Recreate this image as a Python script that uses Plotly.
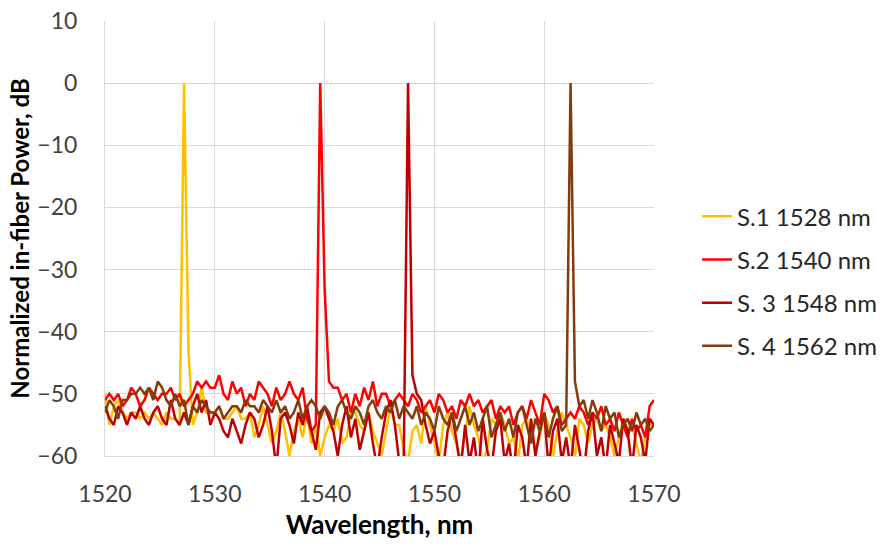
import plotly.graph_objects as go

# Wavelength grid: 1520-1570 nm, 0.4 nm step
wavelength = [round(1520 + 0.4 * k, 1) for k in range(126)]

s1_1528 = [
    -50, -55, -52, -51, -53, -54, -53, -53, -54, -53,
    -54, -53, -54, -55, -53, -54, -54, -55, 0, -43,
    -55, -53, -49, -53, -53, -53, -52, -54, -54, -53,
    -52, -54, -54, -53, -57, -55, -52, -55, -58, -56,
    -53, -56, -60, -56, -54, -57, -53, -58, -55, -60,
    -57, -55, -56, -54, -58, -57, -53, -53, -55, -56,
    -53, -56, -58, -60, -56, -52, -55, -55, -59, -61,
    -56, -55, -58, -52, -55, -58, -61, -55, -53, -56,
    -58, -61, -56, -52, -55, -57, -61, -59, -54, -55,
    -53, -55, -58, -57, -61, -55, -54, -56, -59, -57,
    -53, -55, -60, -56, -53, -55, -57, -60, -54, -55,
    -58, -55, -54, -56, -55, -57, -60, -57, -54, -56,
    -55, -58, -61, -57, -55, -55,
]

s2_1540 = [
    -51, -50, -51, -50, -52, -51, -49, -50, -52, -51,
    -49, -50, -51, -50, -50, -49, -51, -50, -52, -51,
    -50, -48, -49, -48, -49, -49, -47, -50, -51, -48,
    -50, -49, -52, -50, -51, -48, -49, -50, -52, -49,
    -51, -50, -48, -50, -51, -49, -54, -56, -55, 0,
    -33, -48, -49, -49, -51, -50, -53, -50, -52, -49,
    -51, -48, -52, -50, -50, -52, -51, -50, -51, -52,
    -50, -51, -53, -52, -51, -53, -50, -51, -53, -52,
    -54, -51, -52, -50, -52, -51, -53, -52, -51, -54,
    -52, -53, -52, -55, -53, -52, -54, -51, -53, -55,
    -50, -51, -53, -52, -55, -54, -53, -54, -52, -53,
    -55, -53, -54, -52, -55, -54, -56, -53, -55, -57,
    -54, -56, -55, -57, -52, -51,
]

s3_1548 = [
    -52, -54, -55, -52, -53, -55, -53, -54, -52, -54,
    -55, -53, -52, -54, -55, -51, -54, -55, -53, -55,
    -52, -50, -53, -51, -55, -53, -54, -56, -57, -54,
    -56, -58, -55, -53, -54, -57, -55, -52, -56, -62,
    -54, -53, -55, -58, -53, -55, -52, -56, -59, -53,
    -52, -54, -56, -60, -55, -52, -57, -54, -59, -56,
    -53, -58, -62, -57, -53, -51, -55, -61, -62, 0,
    -47, -50, -51, -55, -58, -56, -60, -62, -56, -53,
    -58, -62, -55, -61, -57, -63, -54, -59, -62, -56,
    -54, -61, -58, -63, -55, -57, -62, -54, -60, -56,
    -53, -62, -56, -54, -61, -57, -62, -55, -59, -63,
    -56, -53, -60, -57, -62, -55, -58, -61, -54, -56,
    -62, -55, -57, -61, -54, -55,
]

s4_1562 = [
    -53, -51, -52, -54, -51, -51, -50, -50, -49, -50,
    -49, -51, -48, -49, -51, -52, -50, -52, -51, -55,
    -52, -53, -51, -52, -53, -53, -52, -54, -53, -52,
    -52, -53, -51, -52, -52, -53, -51, -52, -53, -51,
    -53, -52, -54, -53, -51, -54, -52, -51, -52, -54,
    -52, -53, -55, -52, -51, -53, -54, -52, -53, -55,
    -52, -51, -53, -54, -52, -53, -51, -54, -52, -53,
    -54, -52, -55, -53, -54, -56, -52, -54, -55, -53,
    -56, -54, -52, -55, -53, -56, -54, -52, -57, -55,
    -53, -56, -54, -57, -53, -52, -55, -58, -54, -56,
    -53, -57, -54, -52, -56, -55, 0, -48, -52, -51,
    -54, -51, -53, -56, -52, -54, -53, -57, -55, -54,
    -56, -53, -55, -54, -56, -55,
]

series = [
    ("S.1 1528 nm", s1_1528, "#FFC000"),
    ("S.2 1540 nm", s2_1540, "#FF0000"),
    ("S. 3 1548 nm", s3_1548, "#C00000"),
    ("S. 4 1562 nm", s4_1562, "#843C0C"),
]

FONT = "Lato"
fig = go.Figure()
for i, (name, ys, color) in enumerate(series):
    fig.add_trace(go.Scatter(
        x=wavelength, y=ys, mode="lines", name=name,
        line=dict(color=color, width=2.5),
        legendgroup=f"g{i}",
    ))

fig.update_layout(
    width=888, height=547,
    margin=dict(l=105, r=234, t=21, b=91, autoexpand=False),
    paper_bgcolor="white", plot_bgcolor="white",
    font=dict(family=FONT, size=23, color="#404040"),
    legend=dict(
        xref="container", yref="container",
        x=0.785, y=0.486, xanchor="left", yanchor="middle",
        font=dict(family=FONT, size=24, color="#262626"),
        tracegroupgap=9, bgcolor="rgba(0,0,0,0)",
    ),
    showlegend=True,
)
fig.update_xaxes(
    range=[1520, 1570], dtick=10, tick0=1520,
    showgrid=True, gridcolor="#D9D9D9", gridwidth=1,
    showline=True, linecolor="#D9D9D9", linewidth=1,
    zeroline=False, ticks="", ticklabelstandoff=17,
    title=dict(text="<b>Wavelength, nm</b>", font=dict(family=FONT, size=26, color="#000000"), standoff=10),
)
fig.update_yaxes(
    range=[-60, 10], dtick=10, tick0=-60,
    showgrid=True, gridcolor="#D9D9D9", gridwidth=1,
    showline=True, linecolor="#D9D9D9", linewidth=1,
    zeroline=False, ticks="", ticklabelstandoff=22,
    title=dict(text="<b>Normalized in-fiber Power, dB</b>", font=dict(family=FONT, size=24, color="#000000"), standoff=0),
)

fig.write_html("out.html")
